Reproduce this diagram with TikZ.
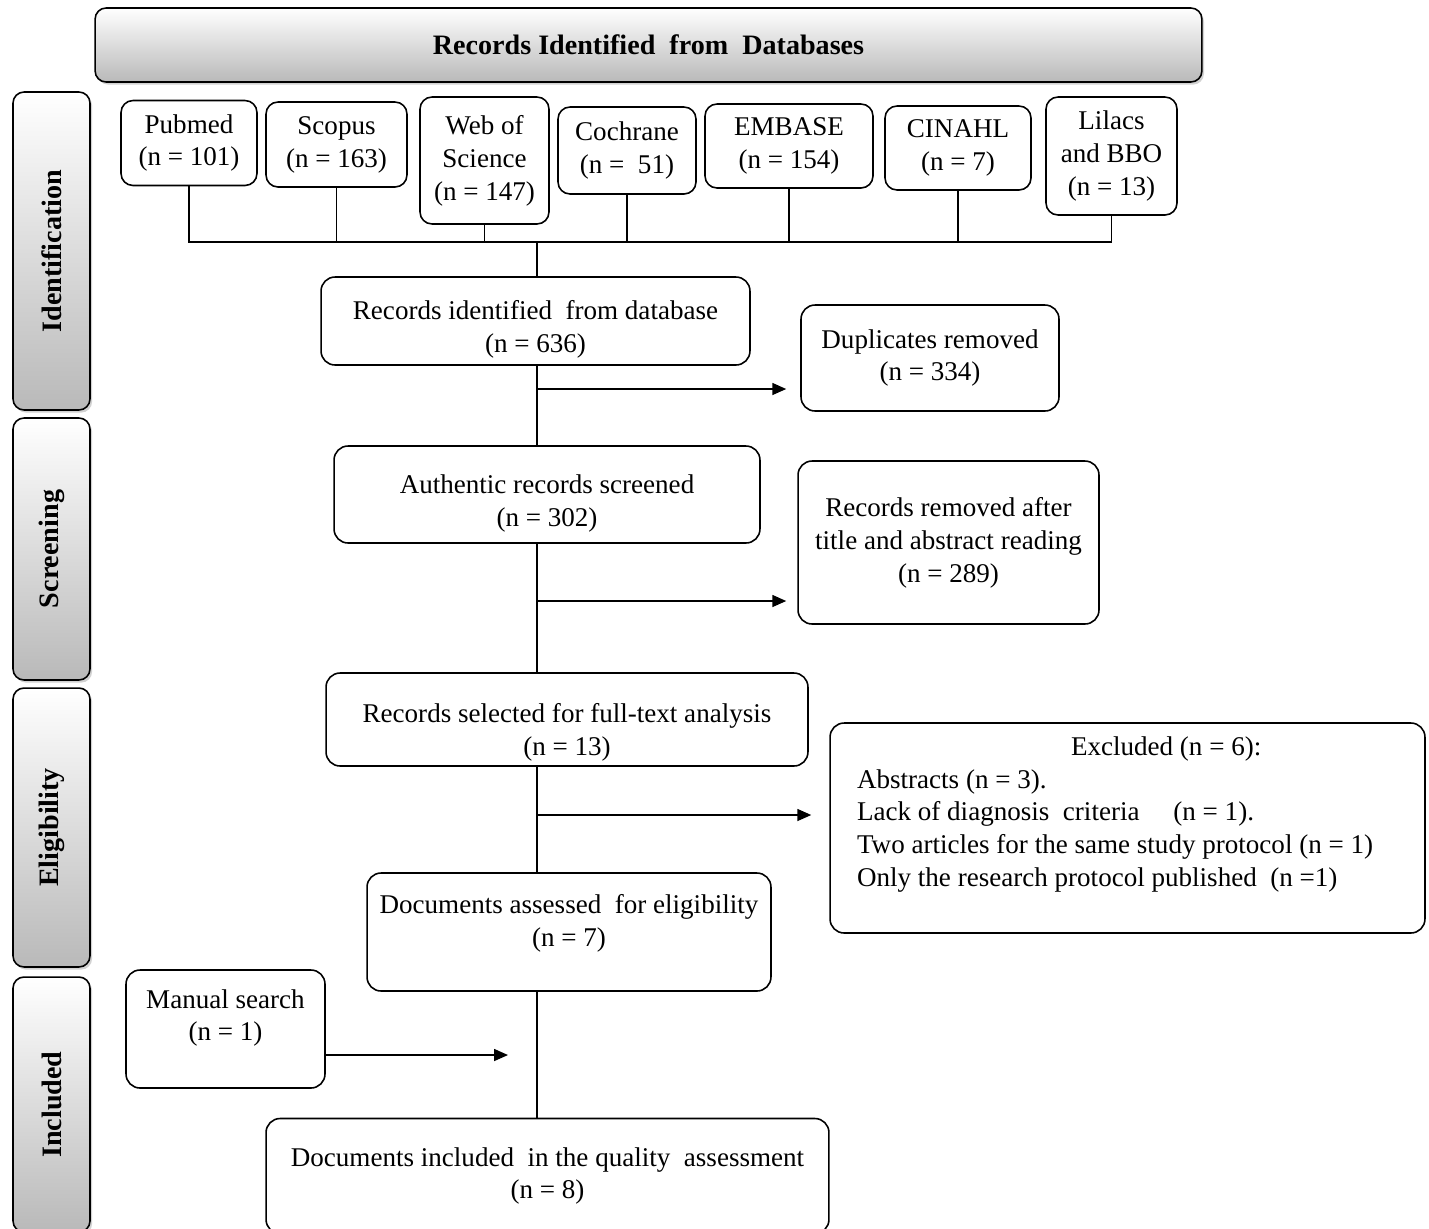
\documentclass[tikz,border=0pt]{standalone}
\usepackage{fontspec}
\setmainfont{Liberation Serif}
\usetikzlibrary{arrows.meta,shadows}
\begin{document}
\begin{tikzpicture}[x=0.02cm,y=-0.02cm,
    font=\fontsize{15.4}{18.7}\selectfont,
    box/.style={draw,line width=0.9pt,rounded corners=0.28cm,fill=white,align=center,inner sep=2pt},
    dbbox/.style={box,rounded corners=0.24cm},
    band/.style={draw,line width=0.9pt,rounded corners=0.22cm,top color=white,bottom color=gray!55,
      drop shadow={shadow xshift=1.2pt,shadow yshift=-1.5pt,opacity=0.35},
      font=\fontsize{16}{19}\selectfont\bfseries},
    arr/.style={line width=0.9pt,-{Triangle[length=2.8mm,width=2.4mm]}},
    line/.style={line width=0.9pt}]
    \fill[white] (0,0) rectangle (1429,1228);
    \useasboundingbox (0,0) rectangle (1429,1228);
    % header and phase bands
    \node[band,minimum width=22.14cm,minimum height=1.48cm] (head) at (648.5,45) {Records Identified\ \ from\ \ Databases};
    \node[band,rotate=90,minimum width=6.36cm,minimum height=1.54cm] (ident) at (51.5,251) {Identification};
    \node[band,rotate=90,minimum width=5.24cm,minimum height=1.54cm] (screen) at (51.5,549) {Screening};
    \node[band,rotate=90,minimum width=5.58cm,minimum height=1.54cm] (elig) at (51.5,827.5) {Eligibility};
    \node[band,rotate=90,minimum width=5.1cm,minimum height=1.54cm] (incl) at (51.5,1104.5) {Included};
    % databases
    \node[dbbox,minimum width=2.72cm,minimum height=1.7cm] (pubmed) at (189,143) {Pubmed\\(n = 101)};
    \node[dbbox,minimum width=2.82cm,minimum height=1.7cm] (scopus) at (336.5,144.5) {Scopus\\(n = 163)};
    \node[dbbox,minimum width=2.58cm,minimum height=2.54cm] (wos) at (484.5,160.5) {Web of\\Science\\(n = 147)};
    \node[dbbox,minimum width=2.76cm,minimum height=1.74cm] (cochrane) at (627,150.5) {Cochrane\\(n =\ \ 51)};
    \node[dbbox,minimum width=3.36cm,minimum height=1.68cm] (embase) at (789,146) {EMBASE\\(n = 154)};
    \node[dbbox,minimum width=2.92cm,minimum height=1.68cm] (cinahl) at (958,148) {CINAHL\\(n = 7)};
    \node[dbbox,minimum width=2.62cm,minimum height=2.36cm] (lilacs) at (1111.5,156) {Lilacs\\and BBO\\(n = 13)};
    % flow boxes
    \node[box,minimum width=8.58cm,minimum height=1.76cm] (recid) at (535.5,321) {\rule{0pt}{20.7pt}Records identified\ \ from database\\(n = 636)};
    \node[box,minimum width=5.16cm,minimum height=2.12cm] (dup) at (930,358) {Duplicates removed\\(n = 334)};
    \node[box,minimum width=8.52cm,minimum height=1.94cm] (auth) at (547,494.5) {\rule{0pt}{20.7pt}Authentic records screened\\(n = 302)};
    \node[box,minimum width=6.02cm,minimum height=3.26cm] (removed) at (948.5,542.5) {Records removed after\\title and abstract reading\\(n = 289)};
    \node[box,minimum width=9.64cm,minimum height=1.86cm] (select) at (567,719.5) {\rule{0pt}{25.3pt}Records selected for full-text analysis\\(n = 13)};
    \node[box,minimum height=4.2cm,text width=10.82cm,inner xsep=0.54cm,align=flush left] (excl) at (1127.5,828)
      {\hspace*{4.28cm}Excluded (n = 6):\\
       Abstracts (n = 3).\\
       Lack of diagnosis\ \ criteria\quad\ (n = 1).\\
       Two articles for the same study protocol\ (n = 1)\\
       Only\ the research protocol published\ \ (n =1)\\
       \mbox{}};
    \node[box,minimum width=8.08cm,minimum height=2.36cm] (assess) at (569,932) {Documents assessed\ \ for eligibility\\(n = 7)\\[-0.18cm]};
    \node[box,minimum width=3.98cm,minimum height=2.36cm] (manual) at (225.5,1029) {Manual search\\(n = 1)\\[-0.1cm]};
    \node[box,minimum width=11.26cm,minimum height=2.3cm] (final) at (547.5,1176) {Documents included\ \ in the quality\ \ assessment\\(n = 8)};
    % database bus
    \coordinate (bus) at (537,242);
    \draw[line] (pubmed.south) -- (pubmed.south |- bus) -- (lilacs.south |- bus) -- (lilacs.south);
    \foreach \db in {scopus,wos,cochrane,embase,cinahl}
    \draw[line] (\db.south) -- (\db.south |- bus);
    % main line
    \draw[line] (bus) -- (bus |- recid.north);
    \draw[line] (bus |- recid.south) -- (bus |- auth.north);
    \draw[line] (bus |- auth.south) -- (bus |- select.north);
    \draw[line] (bus |- select.south) -- (bus |- assess.north);
    \draw[line] (bus |- assess.south) -- (bus |- final.north);
    % side arrows
    \coordinate (a1) at (537,389);
    \coordinate (a2) at (537,601);
    \coordinate (a3) at (537,815);
    \coordinate (a4) at (537,1055);
    \draw[arr,shorten >=0.28cm] (a1) -- (dup.west |- a1);
    \draw[arr,shorten >=0.22cm] (a2) -- (removed.west |- a2);
    \draw[arr,shorten >=0.36cm] (a3) -- (excl.west |- a3);
    \draw[arr,shorten >=0.58cm] (manual.east |- a4) -- (a4);
\end{tikzpicture}
\end{document}
